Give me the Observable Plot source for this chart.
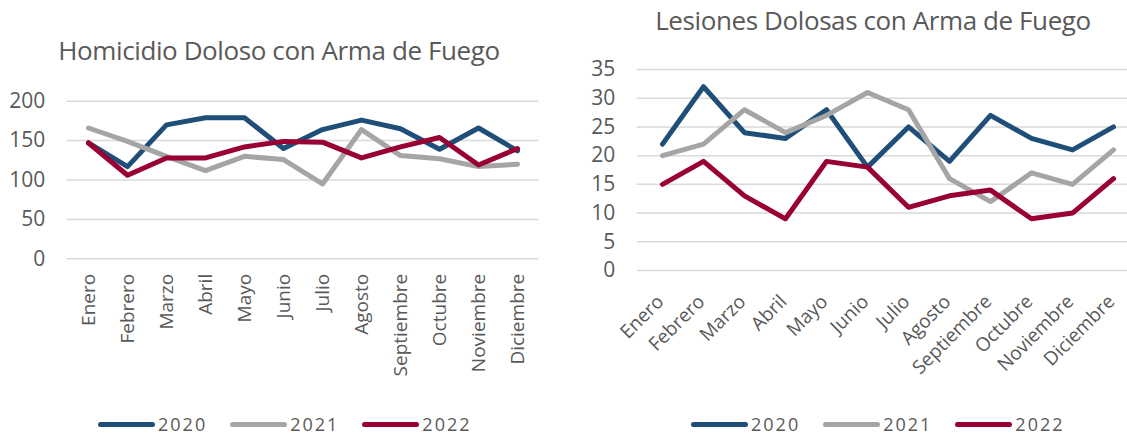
<!DOCTYPE html>
<html>
<head>
<meta charset="utf-8">
<script src="https://cdn.jsdelivr.net/npm/d3@7"></script>
<script src="https://cdn.jsdelivr.net/npm/@observablehq/plot@0.6"></script>
<style>
  body { margin: 0; background: #fff; font-family: "Open Sans", sans-serif; color: #595959; }
  #root { position: relative; width: 1127px; height: 437px; overflow: hidden; }
  .title { position: absolute; font-size: 26px; letter-spacing: -0.4px; white-space: nowrap; transform: translateX(-50%); line-height: 1; }
  .chart { position: absolute; top: 0; }
  .legend { position: absolute; top: 415px; display: flex; align-items: center; gap: 23px; font-size: 18px; letter-spacing: 2px; line-height: 18px; }
  .item { display: flex; align-items: center; }
  .sw { width: 57px; height: 5px; border-radius: 3px; margin-right: 3px; }
</style>
</head>
<body>
<div id="root"></div>
<script>
// ---- data ----
const months = ["Enero","Febrero","Marzo","Abril","Mayo","Junio","Julio","Agosto","Septiembre","Octubre","Noviembre","Diciembre"];
const years = ["2020","2021","2022"];
const colors = ["#1f4e79","#a5a5a5","#990033"];

const homicidio2020 = [147,117,170,179,179,140,164,176,165,139,166,137];
const homicidio2021 = [166,149,130,112,130,126,95,164,131,127,117,120];
const homicidio2022 = [147,106,128,128,142,149,148,128,142,154,119,140];
const homicidioTicks = [0,50,100,150,200];

const lesiones2020 = [22,32,24,23,28,18,25,19,27,23,21,25];
const lesiones2021 = [20,22,28,24,27,31,28,16,12,17,15,21];
const lesiones2022 = [15,19,13,9,19,18,11,13,14,9,10,16];
const lesionesTicks = [0,5,10,15,20,25,30,35];

const titles = ["Homicidio Doloso con Arma de Fuego","Lesiones Dolosas con Arma de Fuego"];

function toRows(series) {
  const rows = [];
  series.forEach((vals, i) => vals.forEach((v, j) => rows.push({year: years[i], month: months[j], value: v})));
  return rows;
}

function makeChart(cfg) {
  const rows = toRows(cfg.series);
  return Plot.plot({
    width: cfg.width, height: cfg.height,
    marginLeft: cfg.mL, marginRight: cfg.mR, marginTop: cfg.mT, marginBottom: cfg.mB,
    style: {fontFamily: "'Open Sans', sans-serif", color: "#595959", background: "transparent", overflow: "visible"},
    x: {type: "point", domain: months, range: cfg.xRange, padding: 0},
    y: {domain: [0, cfg.ticks[cfg.ticks.length - 1]]},
    color: {domain: years, range: colors},
    marks: [
      Plot.ruleY(cfg.ticks, {stroke: "#d9d9d9", strokeWidth: 1.5}),
      Plot.axisY({ticks: cfg.ticks, tickSize: 0, tickPadding: 22, fontSize: 21, label: null}),
      Plot.axisX({tickRotate: cfg.rotate, tickSize: 0, tickPadding: cfg.labelPad, dx: cfg.labelDx, fontSize: 19, label: null}),
      Plot.line(rows, {x: "month", y: "value", z: "year", stroke: "year", strokeWidth: 5, strokeLinecap: "round", strokeLinejoin: "round"})
    ]
  });
}

const root = document.getElementById("root");

function addChart(left, cfg, titleX, titleTop, legendLeft, title) {
  const svg = makeChart(cfg);
  const wrap = document.createElement("div");
  wrap.className = "chart";
  wrap.style.left = left + "px";
  wrap.appendChild(svg);
  root.appendChild(wrap);

  const t = document.createElement("div");
  t.className = "title";
  t.style.left = titleX + "px";
  t.style.top = titleTop + "px";
  t.textContent = title;
  root.appendChild(t);

  const lg = document.createElement("div");
  lg.className = "legend";
  lg.style.left = legendLeft + "px";
  years.forEach((y, i) => {
    const it = document.createElement("div");
    it.className = "item";
    const sw = document.createElement("div");
    sw.className = "sw";
    sw.style.background = colors[i];
    const tx = document.createElement("span");
    tx.textContent = y;
    it.appendChild(sw); it.appendChild(tx);
    lg.appendChild(it);
  });
  root.appendChild(lg);
}

addChart(0, {
  series: [homicidio2020, homicidio2021, homicidio2022],
  ticks: homicidioTicks,
  width: 560, height: 400, mL: 66.7, mR: 21.5, mT: 100.7, mB: 141.7,
  xRange: [86.5, 518.8], rotate: -90, labelPad: 15, labelDx: 0
}, 279, 37, 98, titles[0]);

addChart(580, {
  series: [lesiones2020, lesiones2021, lesiones2022],
  ticks: lesionesTicks,
  width: 547, height: 400, mL: 56.7, mR: 0, mT: 69, mB: 130,
  xRange: [77.3, 537], rotate: -45, labelPad: 28, labelDx: -2
}, 873, 7, 691, titles[1]);
</script>
</body>
</html>
